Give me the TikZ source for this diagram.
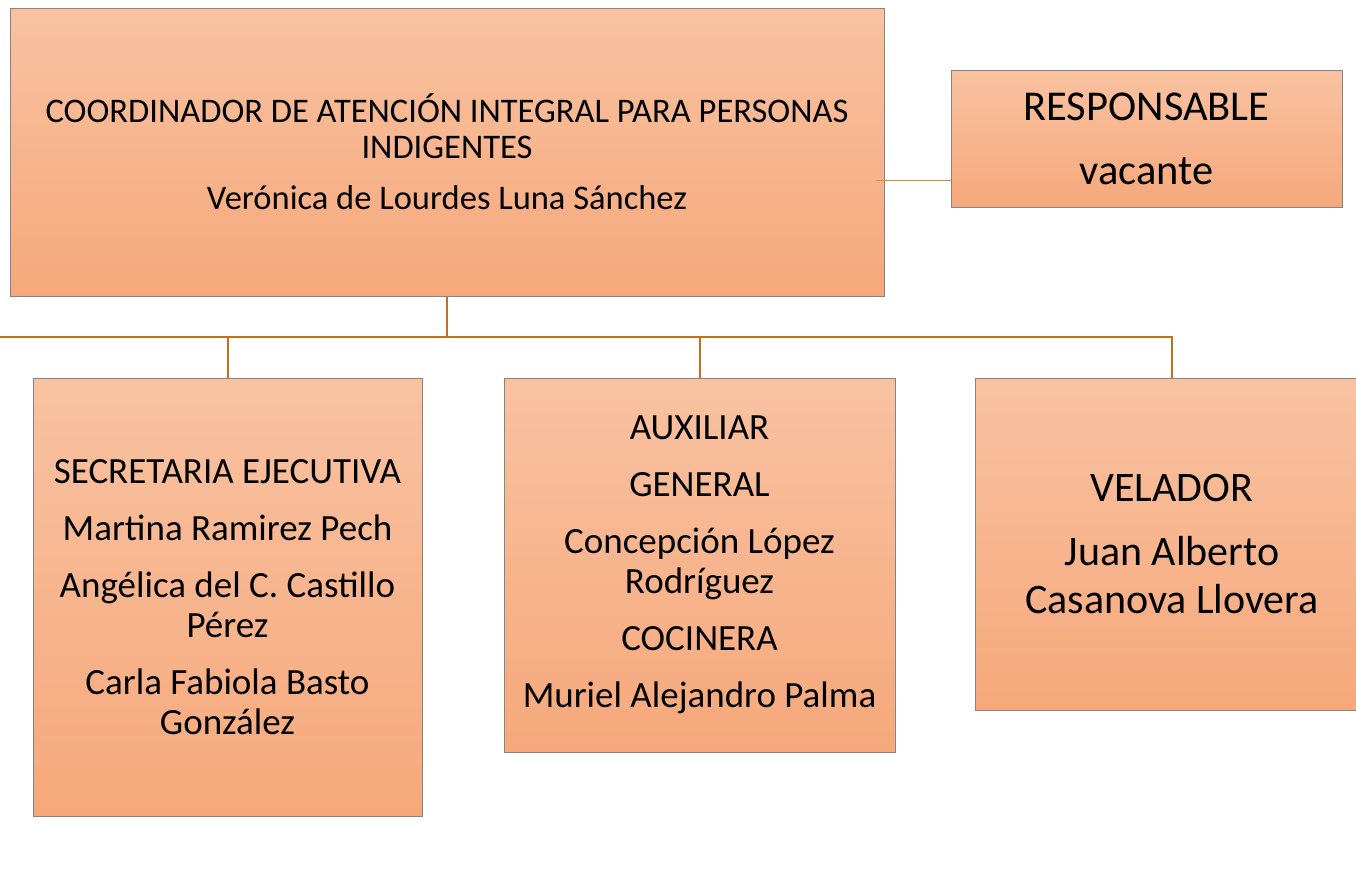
\documentclass[tikz,border=0pt]{standalone}
\usepackage{fontspec}
\setmainfont{Carlito}
\usetikzlibrary{positioning,calc}
\definecolor{boxtop}{HTML}{F8C2A1}
\definecolor{boxbot}{HTML}{F6A87B}
\definecolor{boxline}{HTML}{858585}
\definecolor{trunkline}{HTML}{C0701A}
\definecolor{sideline}{HTML}{E08A3A}

\begin{document}
\begin{tikzpicture}[x=1pt, y=-1pt,
    orgbox/.style={rectangle, draw=boxline, line width=1pt, top color=boxtop, bottom color=boxbot,
                   align=center, inner sep=0pt},
    trunk/.style={draw=trunkline, line width=2pt},
    side/.style={draw=sideline, line width=0.8pt},
    headtext/.style={font=\fontsize{34.5}{36}\selectfont},
    midtext/.style={font=\fontsize{37}{40}\selectfont},
    largetext/.style={font=\fontsize{42}{48}\selectfont}
]
\useasboundingbox (0,0) rectangle (1356,878);

% boxes
\node[orgbox, headtext, minimum width=874pt, minimum height=288pt] (coord) at (447,152)
  {COORDINADOR DE ATENCIÓN INTEGRAL PARA PERSONAS\\INDIGENTES\\[15pt]Verónica de Lourdes Luna Sánchez};
\node[orgbox, font=\fontsize{42.5}{64}\selectfont, minimum width=391pt, minimum height=137pt] (resp) at (1146.5,138.5)
  {RESPONSABLE\\vacante};
\node[orgbox, midtext, minimum width=389pt, minimum height=438pt] (sec) at (227.5,597)
  {SECRETARIA EJECUTIVA\\[17pt]Martina Ramirez Pech\\[17pt]Angélica del C. Castillo\\Pérez\\[17pt]Carla Fabiola Basto\\González};
\node[orgbox, midtext, minimum width=391pt, minimum height=374pt] (aux) at (699.5,565)
  {AUXILIAR\\[17pt]GENERAL\\[17pt]Concepción López\\Rodríguez\\[17pt]COCINERA\\[17pt]Muriel Alejandro Palma};
\node[orgbox, largetext, minimum width=394pt, minimum height=332pt] (vel) at (1172,544)
  {VELADOR\\[16pt]Juan Alberto\\Casanova Llovera};

% connectors
\coordinate (bus) at (447,337);
\coordinate (busW) at (0,337);
\coordinate (tap) at (876,180);
\draw[trunk] (coord.south) -- (bus);
\draw[trunk] (busW) -- (bus);
\draw[trunk] (sec.north) |- (bus);
\draw[trunk] (aux.north) |- (bus);
\draw[trunk] (vel.north) |- (bus);
\draw[side] (tap) -- (tap -| resp.west);
\end{tikzpicture}
\end{document}
